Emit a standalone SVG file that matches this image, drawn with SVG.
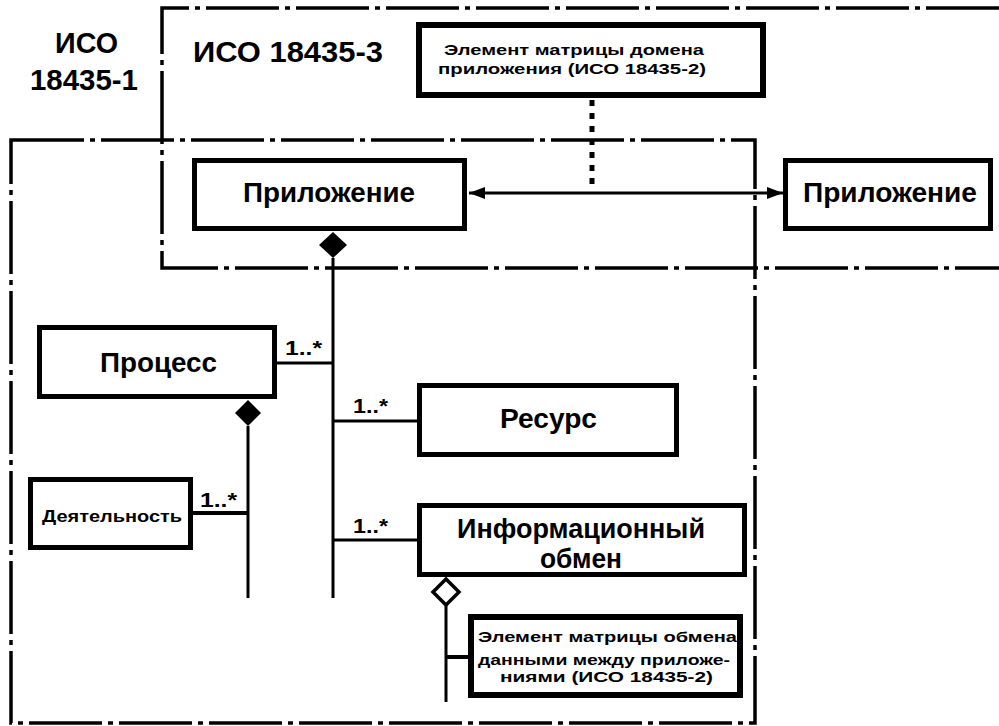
<svg xmlns="http://www.w3.org/2000/svg" width="999" height="726" viewBox="0 0 999 726">
<defs>
<style>
.frame{fill:none;stroke:#000;stroke-width:3.5;stroke-dasharray:73 6 5 6}
.box{fill:#fff;stroke:#000;stroke-width:5}
.ln{fill:none;stroke:#000;stroke-width:3}
.t{font-family:"Liberation Sans",Arial,sans-serif;font-weight:bold;fill:#000}
.big{font-size:27px}
.hdr{font-size:29px}
.mult{font-size:21px}
.sm{font-size:15px}
</style>
<marker id="ah" viewBox="0 0 16 12" refX="16" refY="6" markerWidth="16" markerHeight="12" markerUnits="userSpaceOnUse" orient="auto-start-reverse">
<path d="M0,6 L16,0 L16,12 Z" transform="rotate(180 8 6)" fill="#000"/>
</marker>
</defs>
<rect width="999" height="726" fill="#fff"/>

<g id="frames">
<path class="frame" d="M999,8 H162 V268 H999"/>
<rect class="frame" x="11" y="140" width="744" height="583"/>
</g>

<g id="labels">
<text class="t hdr" x="55" y="53" textLength="63" lengthAdjust="spacingAndGlyphs">ИСО</text>
<text class="t hdr" x="30" y="90" textLength="108" lengthAdjust="spacingAndGlyphs">18435-1</text>
<text class="t hdr" x="193" y="62" textLength="190" lengthAdjust="spacingAndGlyphs">ИСО 18435-3</text>
</g>

<g id="connectors">
<line class="ln" x1="592" y1="100" x2="592" y2="186" style="stroke-width:5;stroke-dasharray:6 7"/>
<line class="ln" x1="469" y1="193" x2="783" y2="193" marker-start="url(#ah)" marker-end="url(#ah)"/>
<line class="ln" x1="333" y1="258" x2="333" y2="598"/>
<line class="ln" x1="277" y1="363" x2="333" y2="363"/>
<line class="ln" x1="333" y1="421" x2="417" y2="421"/>
<line class="ln" x1="333" y1="540" x2="417" y2="540"/>
<line class="ln" x1="248" y1="426" x2="248" y2="598"/>
<line class="ln" x1="193" y1="513" x2="248" y2="513" style="stroke-width:4"/>
<line class="ln" x1="446" y1="605" x2="446" y2="702"/>
<line class="ln" x1="446" y1="657" x2="468" y2="657" style="stroke-width:4"/>
<polygon points="333,232 347,245 333,258 319,245" fill="#000"/>
<polygon points="248,400 261,413 248,426 235,413" fill="#000"/>
<polygon points="446,579 459,592 446,605 433,592" fill="#fff" stroke="#000" stroke-width="3.5"/>
<text class="t mult" x="285" y="355" textLength="37" lengthAdjust="spacingAndGlyphs">1..*</text>
<text class="t mult" x="353" y="413" textLength="35" lengthAdjust="spacingAndGlyphs">1..*</text>
<text class="t mult" x="353" y="533" textLength="35" lengthAdjust="spacingAndGlyphs">1..*</text>
<text class="t mult" x="200" y="507" textLength="37" lengthAdjust="spacingAndGlyphs">1..*</text>
</g>

<g id="node-domain">
<rect class="box" x="419" y="25" width="344" height="70" style="stroke-width:6"/>
<text class="t sm" x="444" y="55" textLength="260" lengthAdjust="spacingAndGlyphs">Элемент матрицы домена</text>
<text class="t sm" x="438" y="74" textLength="268" lengthAdjust="spacingAndGlyphs">приложения (ИСО 18435-2)</text>
</g>

<g id="node-app1">
<rect class="box" x="194.5" y="160.5" width="270" height="68"/>
<text class="t big" x="243" y="202" textLength="172" lengthAdjust="spacingAndGlyphs">Приложение</text>
</g>

<g id="node-app2">
<rect class="box" x="785.5" y="160.5" width="205" height="68"/>
<text class="t big" x="803" y="202" textLength="174" lengthAdjust="spacingAndGlyphs">Приложение</text>
</g>

<g id="node-process">
<rect class="box" x="39.5" y="327.5" width="235" height="69"/>
<text class="t big" x="100" y="372" textLength="117" lengthAdjust="spacingAndGlyphs">Процесс</text>
</g>

<g id="node-resource">
<rect class="box" x="419.5" y="385.5" width="257" height="69"/>
<text class="t big" x="500" y="428" textLength="97" lengthAdjust="spacingAndGlyphs">Ресурс</text>
</g>

<g id="node-activity">
<rect class="box" x="30.5" y="479.5" width="160" height="68"/>
<text class="t" style="font-size:16px" x="42" y="522" textLength="140" lengthAdjust="spacingAndGlyphs">Деятельность</text>
</g>

<g id="node-exchange">
<rect class="box" x="419.5" y="505.5" width="325" height="69"/>
<text class="t big" x="457" y="538" textLength="248" lengthAdjust="spacingAndGlyphs">Информационный</text>
<text class="t big" x="540" y="568" textLength="82" lengthAdjust="spacingAndGlyphs">обмен</text>
</g>

<g id="node-matrix">
<rect class="box" x="471" y="617" width="269" height="78" style="stroke-width:6"/>
<text class="t sm" x="478" y="642" textLength="259" lengthAdjust="spacingAndGlyphs">Элемент матрицы обмена</text>
<text class="t sm" x="478" y="665" textLength="252" lengthAdjust="spacingAndGlyphs">данными между приложе-</text>
<text class="t sm" x="500" y="682" textLength="213" lengthAdjust="spacingAndGlyphs">ниями (ИСО 18435-2)</text>
</g>
</svg>
